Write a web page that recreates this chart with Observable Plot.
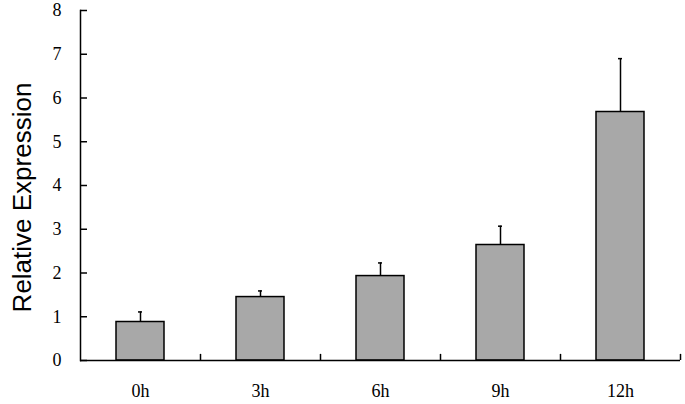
<!DOCTYPE html>
<html>
<head>
<meta charset="utf-8">
<script src="https://cdn.jsdelivr.net/npm/d3@7"></script>
<script src="https://cdn.jsdelivr.net/npm/@observablehq/plot@0.6"></script>
<style>
  html, body { margin: 0; padding: 0; background: #fff; }
  #chart { width: 685px; height: 404px; }
</style>
</head>
<body>
<div id="chart"></div>
<script>
const categories = ["0h", "3h", "6h", "9h", "12h"];
const means = [0.88, 1.45, 1.93, 2.64, 5.68];
const errors = [0.23, 0.14, 0.30, 0.43, 1.22];
const yTicks = [0, 1, 2, 3, 4, 5, 6, 7, 8];
const yLabel = "Relative Expression";

const data = categories.map((c, i) => ({cat: c, value: means[i], upper: means[i] + errors[i]}));

const tickFont = "'Liberation Serif', 'Times New Roman', serif";

const chart = Plot.plot({
  width: 685,
  height: 404,
  marginLeft: 80,
  marginRight: 5,
  marginTop: 10,
  marginBottom: 44,
  style: {fontFamily: tickFont, fontSize: "18px", color: "#000", background: "#fff"},
  x: {domain: categories, paddingInner: 0.6, paddingOuter: 0.3, label: null},
  y: {domain: [0, 8], label: null},
  marks: [
    Plot.axisY({ticks: yTicks, tickSize: -7, tickPadding: 26, tickFormat: d => d, strokeWidth: 1.5, label: null, fontSize: 18, fontFamily: tickFont}),
    Plot.axisX({tickSize: 0, tickPadding: 24, label: null, fontSize: 18, fontFamily: tickFont}),
    Plot.ruleX(data, {x: "cat", y1: "value", y2: "upper", stroke: "#000", strokeWidth: 1.5}),
    Plot.tickY(data, {x: "cat", y: "upper", stroke: "#000", strokeWidth: 1.5, insetLeft: 22, insetRight: 22}),
    Plot.barY(data, {x: "cat", y: "value", fill: "#a8a8a8", stroke: "#000", strokeWidth: 1.5}),
    Plot.ruleX(categories, {x: d => d, y1: 0, y2: 0.14, dx: 60, stroke: "#000", strokeWidth: 1.5}),
    Plot.ruleY([0], {stroke: "#000", strokeWidth: 1.5}),
    Plot.frame({anchor: "left", stroke: "#000", strokeWidth: 1.5}),
    Plot.text([yLabel], {text: d => d, frameAnchor: "left", textAnchor: "middle", rotate: -90, dx: -58, dy: 12, fontSize: 26, fontFamily: "'Liberation Sans', Arial, sans-serif", fill: "#000"})
  ]
});
document.getElementById("chart").appendChild(chart);
</script>
</body>
</html>
